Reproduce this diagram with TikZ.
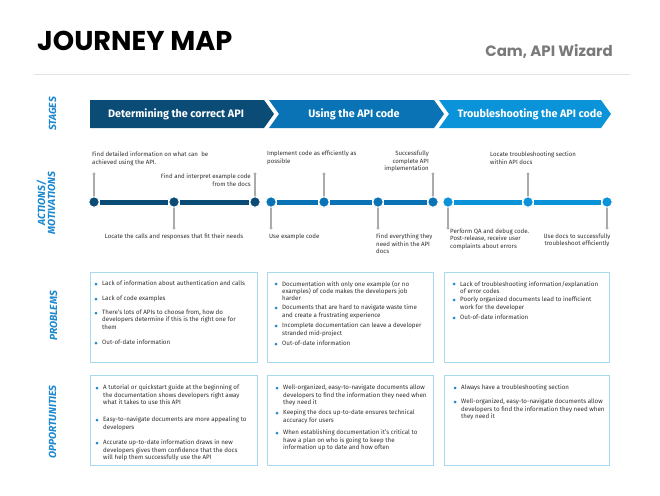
\documentclass[tikz,border=0pt]{standalone}
\usepackage{fontspec}
\setmainfont{Fira Sans}
\newfontfamily\popfont{Poppins}
\usetikzlibrary{shadows}
\definecolor{stA}{HTML}{0B4C77}
\definecolor{stB}{HTML}{0A73B5}
\definecolor{stC}{HTML}{0B93DA}
\definecolor{lab}{HTML}{1B88D0}
\definecolor{boxln}{HTML}{A9D9EF}
\definecolor{stemc}{HTML}{ABABAB}
\definecolor{txt}{HTML}{303030}
\definecolor{subc}{HTML}{7A7A7A}
\definecolor{hlinec}{HTML}{E4E4E4}
\tikzset{
  body/.style={font=\fontsize{6.2}{7.2}\selectfont, text=txt, inner sep=0pt, align=left},
  acttxt/.style={font=\fontsize{6.1}{7.6}\selectfont, text=txt, inner sep=0pt},
  rowlab/.style={font=\fontsize{10.3}{10}\selectfont\bfseries\itshape, text=lab, rotate=90, align=center, inner sep=0pt},
  stagetxt/.style={font=\fontsize{10.8}{11}\selectfont\bfseries, text=white, inner sep=0pt},
  tdot/.style={circle, draw=white, line width=1pt, minimum size=10.5pt, inner sep=0pt,
    drop shadow={opacity=0.25, shadow xshift=0pt, shadow yshift=-0.7pt}},
  topdot/.style={circle, draw=white, line width=1pt, minimum size=10.5pt, inner sep=0pt},
  stemline/.style={draw=stemc, line width=1.2pt},
  stemend/.style={circle, fill=stemc, minimum size=3.2pt, inner sep=0pt},
  tline/.style={line width=5pt},
  infobox/.style={draw=boxln, line width=0.9pt, fill=white, anchor=north west, minimum height=90pt, inner sep=0pt},
  bul/.style={circle, fill=lab, minimum size=3pt, inner sep=0pt},
}
\newcommand\bitem[4]{%
  \node[bul] (#1b) at (#2-6,#3) {};
  \node[body, anchor=north west] (#1) at (#2,#3-3.1) {#4};}
\begin{document}
\begin{tikzpicture}[x=1pt,y=-1pt]
\useasboundingbox (0,0) rectangle (660,495);
\fill[white] (0,0) rectangle (660,495);

% header
\node[font=\popfont\fontsize{27.2}{27.2}\selectfont\bfseries, anchor=base west, inner sep=0pt] (title) at (37,50) {JOURNEY MAP};
\node[font=\popfont\fontsize{15}{15}\selectfont\bfseries, text=subc, anchor=base east, inner sep=0pt] (who) at (613,56.5) {Cam, API Wizard};
\coordinate (hl1) at (34,74);
\coordinate (hl2) at (630,74);
\draw[hlinec, line width=0.8pt] (hl1) -- (hl2);

% row labels
\node[rowlab] (lstages) at (52.5,114) {STAGES};
\node[rowlab] (lactions) at (46,203) {ACTIONS/\\MOTIVATIONS};
\node[rowlab] (lproblems) at (53.5,316) {PROBLEMS};
\node[rowlab] (lopps) at (52.5,422) {OPPORTUNITIES};

% stages
\fill[stA] (90,100) -- (264,100) -- (274,114) -- (264,128) -- (90,128) -- cycle;
\fill[stB] (269,100) -- (434,100) -- (444,114) -- (434,128) -- (269,128) -- (279,114) -- cycle;
\fill[stC] (439,100) -- (601,100) -- (611,114) -- (601,128) -- (439,128) -- (449,114) -- cycle;
\node[stagetxt] (s1) at (176,114) {Determining the correct API};
\node[stagetxt] (s2) at (354,114) {Using the API code};
\node[stagetxt] (s3) at (530,114) {Troubleshooting the API code};

% stem ends
\node[stemend] (t1) at (94,174) {};
\node[stemend] (t2) at (174,228) {};
\node[stemend] (t3) at (255,174) {};
\node[stemend] (t4) at (271,228) {};
\node[stemend] (t5) at (324,174) {};
\node[stemend] (t6) at (378,228) {};
\node[stemend] (t7) at (433,174) {};
\node[stemend] (t8) at (448,228) {};
\node[stemend] (t9) at (528,174) {};
\node[stemend] (t10) at (607,228) {};

% timeline dots
\node[tdot, fill=stA] (d1) at (94,202) {};
\node[tdot, fill=stA] (d2) at (174,202) {};
\node[tdot, fill=stA] (d3) at (255,202) {};
\node[tdot, fill=stB] (e1) at (271,202) {};
\node[tdot, fill=stB] (e2) at (324,202) {};
\node[tdot, fill=stB] (e3) at (378,202) {};
\node[tdot, fill=stB] (e4) at (433,202) {};
\node[tdot, fill=stC] (f1) at (448,202) {};
\node[tdot, fill=stC] (f2) at (528,202) {};
\node[tdot, fill=stC] (f3) at (607,202) {};

% stems
\draw[stemline] (d1.center) -- (t1.center);
\draw[stemline] (d2.center) -- (t2.center);
\draw[stemline] (d3.center) -- (t3.center);
\draw[stemline] (e1.center) -- (t4.center);
\draw[stemline] (e2.center) -- (t5.center);
\draw[stemline] (e3.center) -- (t6.center);
\draw[stemline] (e4.center) -- (t7.center);
\draw[stemline] (f1.center) -- (t8.center);
\draw[stemline] (f2.center) -- (t9.center);
\draw[stemline] (f3.center) -- (t10.center);

% timeline segments
\draw[stA, tline] (d1) -- (d2);
\draw[stA, tline] (d2) -- (d3);
\draw[stB, tline] (e1) -- (e2);
\draw[stB, tline] (e2) -- (e3);
\draw[stB, tline] (e3) -- (e4);
\draw[stC, tline] (f1) -- (f2);
\draw[stC, tline] (f2) -- (f3);
% dots on top of lines and stems
\foreach \n/\c in {d1/stA,d2/stA,d3/stA,e1/stB,e2/stB,e3/stB,e4/stB,f1/stC,f2/stC,f3/stC}{
  \node[topdot, fill=\c] at (\n) {};
}

% action texts
\node[acttxt, align=left, anchor=north west] (a1) at (92,151.5) {Find detailed information on what can\ \ be\\achieved using the API.};
\node[acttxt, align=right, anchor=north east] (a2) at (251,173.5) {Find and interpret example code\\from the docs};
\node[acttxt, anchor=center] (a3) at (174,237) {Locate the calls and responses that fit their needs};
\node[acttxt, align=left, anchor=north west] (b1) at (267,151) {Implement code as efficiently as\\possible};
\node[acttxt, align=right, anchor=north east] (b2) at (429,151) {Successfully\\complete API\\implementation};
\node[acttxt, anchor=west] (b3) at (269,237) {Use example code};
\node[acttxt, align=left, anchor=north west] (b4) at (376,233.5) {Find everything they\\need within the API\\docs};
\node[acttxt, align=left, anchor=north west] (c1) at (490,152) {Locate troubleshooting section\\within API docs};
\node[acttxt, align=left, anchor=north west] (c2) at (450,228.5) {Perform QA and debug code.\\Post-release, receive user\\complaints about errors};
\node[acttxt, align=center, anchor=north] (c3) at (577,233.5) {Use docs to successfully\\troubleshoot efficiently};

% problem boxes
\node[infobox, minimum width=167pt] (p1) at (90,272) {};
\node[infobox, minimum width=166pt] (p2) at (267,272) {};
\node[infobox, minimum width=165pt] (p3) at (444,272) {};
\bitem{p1a}{102}{284}{Lack of information about authentication and calls}
\bitem{p1b}{102}{299}{Lack of code examples}
\bitem{p1c}{102}{313}{There's lots of APIs to choose from, how do\\developers determine if this is the right one for\\them}
\bitem{p1d}{102}{343}{Out-of-date information}
\bitem{p2a}{282}{284}{Documentation with only one example (or no\\examples) of code makes the developers job\\harder}
\bitem{p2b}{282}{308}{Documents that are hard to navigate waste time\\and create a frustrating experience}
\bitem{p2c}{282}{326}{Incomplete documentation can leave a developer\\stranded mid-project}
\bitem{p2d}{282}{344}{Out-of-date information}
\bitem{p3a}{460}{284}{Lack of troubleshooting information/explanation\\of error codes}
\bitem{p3b}{460}{300}{Poorly organized documents lead to inefficient\\work for the developer}
\bitem{p3c}{460}{318}{Out-of-date information}

% opportunity boxes
\node[infobox, minimum width=167pt] (o1) at (90,375) {};
\node[infobox, minimum width=166pt] (o2) at (267,375) {};
\node[infobox, minimum width=165pt] (o3) at (444,375) {};
\bitem{o1a}{103}{388}{A tutorial or quickstart guide at the beginning of\\the documentation shows developers right away\\what it takes to use this API}
\bitem{o1b}{103}{420}{Easy-to-navigate documents are more appealing to\\developers}
\bitem{o1c}{103}{443}{Accurate up-to-date information draws in new\\developers gives them confidence that the docs\\will help them successfully use the API}
\bitem{o2a}{283}{388}{Well-organized, easy-to-navigate documents allow\\developers to find the information they need when\\they need it}
\bitem{o2b}{283}{413}{Keeping the docs up-to-date ensures technical\\accuracy for users}
\bitem{o2c}{283}{433}{When establishing documentation it's critical to\\have a plan on who is going to keep the\\information up to date and how often}
\bitem{o3a}{461}{388}{Always have a troubleshooting section}
\bitem{o3b}{461}{402}{Well-organized, easy-to-navigate documents allow\\developers to find the information they need when\\they need it}
\end{tikzpicture}
\end{document}
